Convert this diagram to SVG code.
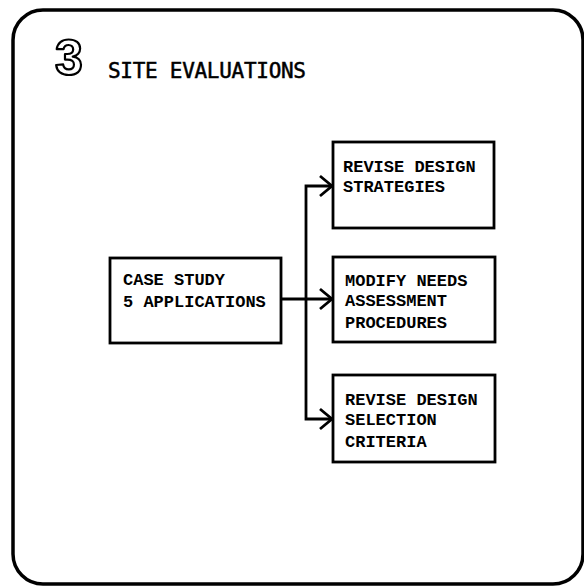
<svg xmlns="http://www.w3.org/2000/svg" width="584" height="586" viewBox="0 0 584 586">
<style>
.box{fill:#fff;stroke:#000;stroke-width:2.8}
.t{font-family:"Liberation Mono","DejaVu Sans Mono",monospace;font-weight:bold;font-size:17px;fill:#000}
.conn{fill:none;stroke:#000;stroke-width:2.8}
.head{fill:none;stroke:#000;stroke-width:2.8;stroke-linejoin:miter}
</style>
<rect width="584" height="586" fill="#fff"/>
<rect x="13" y="10" width="570" height="574" rx="30" ry="30" fill="none" stroke="#000" stroke-width="3.5"/>
<g id="title">
<text x="55" y="75" font-family="'Liberation Sans',Arial,sans-serif" font-weight="bold" font-size="50" fill="#fff" stroke="#000" stroke-width="2.2" stroke-linejoin="round">3</text>
<text x="108" y="78" font-family="'DejaVu Sans Mono','Liberation Mono',monospace" font-size="21" textLength="198" lengthAdjust="spacing" stroke="#000" stroke-width="0.5">SITE EVALUATIONS</text>
</g>
<g id="connectors">
<line class="conn" x1="281" y1="299" x2="332" y2="299"/>
<polyline class="conn" points="332,186 306,186 306,419 332,419"/>
<polyline class="head" points="320,176 332,186 320,196"/>
<polyline class="head" points="320,289 332,299 320,309"/>
<polyline class="head" points="320,409 332,419 320,429"/>
</g>
<g id="case-study">
<rect class="box" x="110" y="258" width="171" height="85"/>
<text class="t" x="123" y="285">CASE STUDY</text>
<text class="t" x="123" y="307">5 APPLICATIONS</text>
</g>
<g id="revise-strategies">
<rect class="box" x="333" y="142" width="161" height="86"/>
<text class="t" x="343" y="172">REVISE DESIGN</text>
<text class="t" x="343" y="192">STRATEGIES</text>
</g>
<g id="modify-needs">
<rect class="box" x="333" y="257" width="162" height="85"/>
<text class="t" x="345" y="286">MODIFY NEEDS</text>
<text class="t" x="345" y="306">ASSESSMENT</text>
<text class="t" x="345" y="328">PROCEDURES</text>
</g>
<g id="revise-criteria">
<rect class="box" x="333" y="375" width="162" height="87"/>
<text class="t" x="345" y="405">REVISE DESIGN</text>
<text class="t" x="345" y="425">SELECTION</text>
<text class="t" x="345" y="447">CRITERIA</text>
</g>
</svg>
